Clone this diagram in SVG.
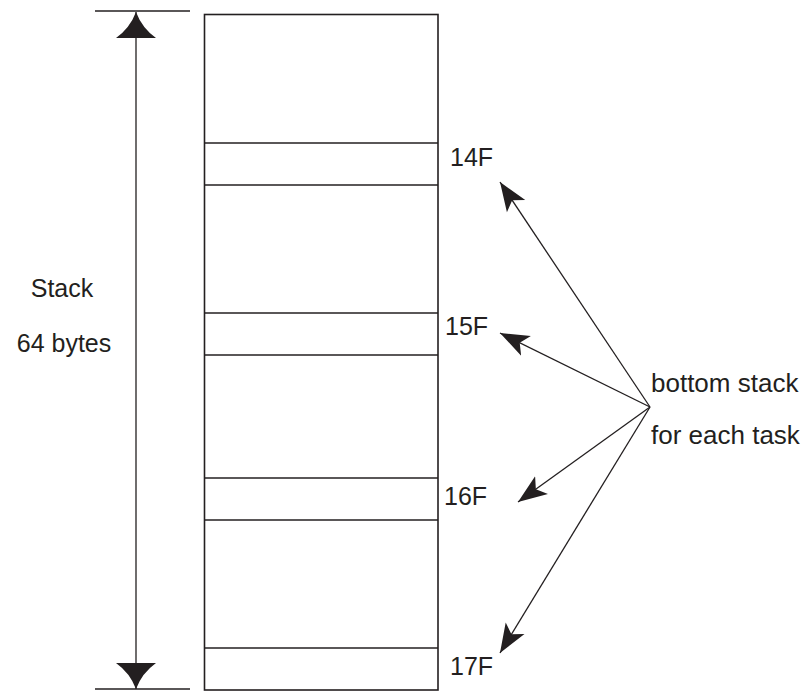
<svg xmlns="http://www.w3.org/2000/svg" width="806" height="691" viewBox="0 0 806 691">
<style>
.t{font-family:"Liberation Sans",Arial,sans-serif;font-size:25px;fill:#231f20}
.t2{font-size:26px}
.ln{stroke:#231f20;stroke-width:1.3;fill:none}
.box{stroke:#231f20;stroke-width:1.6;fill:#fff}
</style>
<defs>
<marker id="big" viewBox="0 0 27 40" refX="26" refY="20" markerWidth="27" markerHeight="40" markerUnits="userSpaceOnUse" orient="auto-start-reverse">
<path d="M26,20 Q10,14 0,0 L0,40 Q10,26 26,20 Z" fill="#231f20"/>
</marker>
<marker id="sm" viewBox="0 0 30 24" refX="29" refY="12" markerWidth="30" markerHeight="24" markerUnits="userSpaceOnUse" orient="auto">
<path d="M29,12 L0,1 L7,12 L0,23 Z" fill="#231f20"/>
</marker>
</defs>
<g id="stack">
<rect class="box" x="204.5" y="14.5" width="233.5" height="675.5"/>
<line class="ln" x1="204.5" y1="143" x2="438" y2="143"/>
<line class="ln" x1="204.5" y1="185" x2="438" y2="185"/>
<line class="ln" x1="204.5" y1="313" x2="438" y2="313"/>
<line class="ln" x1="204.5" y1="355" x2="438" y2="355"/>
<line class="ln" x1="204.5" y1="478" x2="438" y2="478"/>
<line class="ln" x1="204.5" y1="520" x2="438" y2="520"/>
<line class="ln" x1="204.5" y1="648" x2="438" y2="648"/>
</g>
<g id="dimension">
<line class="ln" x1="95" y1="11" x2="190" y2="11"/>
<line class="ln" x1="95" y1="689" x2="190" y2="689"/>
<text class="t" x="62" y="297" text-anchor="middle">Stack</text>
<text class="t" x="64" y="352" text-anchor="middle">64 bytes</text>
</g>
<g id="labels">
<text class="t" x="450" y="166">14F</text>
<text class="t" x="445" y="335">15F</text>
<text class="t" x="444" y="505">16F</text>
<text class="t" x="450" y="675">17F</text>
<text class="t t2" x="651" y="392">bottom stack</text>
<text class="t t2" x="651" y="444">for each task</text>
</g>
<g id="connectors">
<line class="ln" x1="136" y1="12" x2="136" y2="689" marker-start="url(#big)" marker-end="url(#big)"/>
<line class="ln" x1="650" y1="407" x2="500" y2="182" marker-end="url(#sm)"/>
<line class="ln" x1="650" y1="407" x2="500" y2="333" marker-end="url(#sm)"/>
<line class="ln" x1="650" y1="407" x2="518" y2="502" marker-end="url(#sm)"/>
<line class="ln" x1="650" y1="407" x2="500" y2="653" marker-end="url(#sm)"/>
</g>
</svg>
